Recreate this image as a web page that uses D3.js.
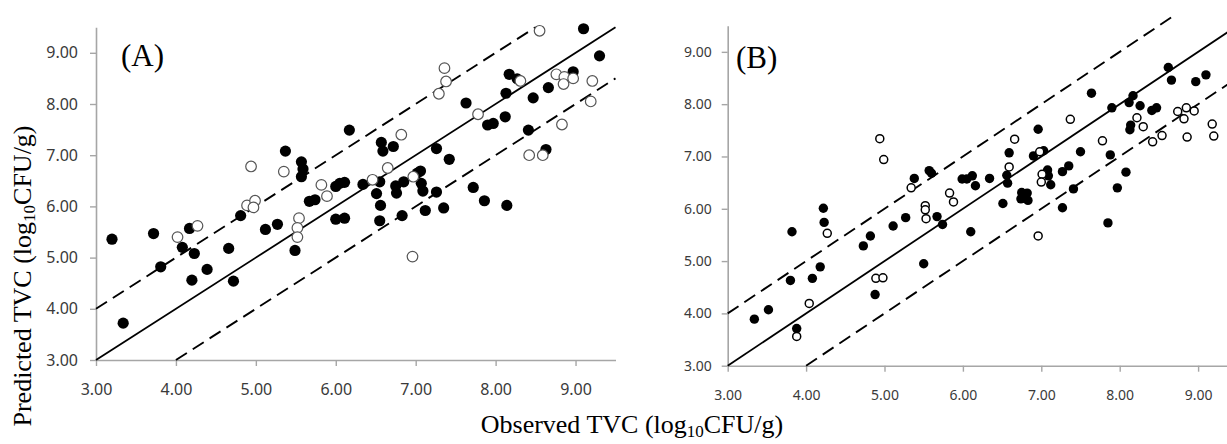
<!DOCTYPE html>
<html>
<head>
<meta charset="utf-8">
<script src="https://cdn.jsdelivr.net/npm/d3@7"></script>
<style>
  html, body { margin: 0; padding: 0; background: #fff; }
  svg { display: block; }
</style>
</head>
<body>
<svg id="chart" width="1227" height="444"></svg>
<script>
// Observed vs predicted total viable count (log10 CFU/g), two data sets.
const tickValues = [3, 4, 5, 6, 7, 8, 9];

// Panel (A): [observed, predicted]
const aFilled = [
  [3.20,5.36],[3.72,5.47],[3.34,3.72],[3.81,4.82],[4.17,5.57],[4.08,5.20],[4.23,5.08],[4.20,4.56],
  [4.39,4.77],[4.66,5.18],[4.72,4.54],[4.81,5.82],[5.12,5.55],[5.27,5.65],[5.37,7.08],[5.57,6.87],
  [5.59,6.73],[5.57,6.58],[5.49,5.14],[5.67,6.10],[5.74,6.13],[6.00,6.39],[6.05,6.45],[6.11,6.47],
  [6.00,5.75],[6.11,5.77],[6.34,6.43],[6.17,7.49],[6.57,7.25],[6.59,7.08],[6.72,7.17],[6.55,6.48],
  [6.51,6.25],[6.56,6.02],[6.75,6.40],[6.76,6.26],[6.85,6.48],[7.02,6.65],[7.06,6.69],[7.07,6.45],
  [7.09,6.30],[7.26,6.28],[7.26,7.13],[7.42,6.92],[6.55,5.72],[6.83,5.82],[7.12,5.92],[7.35,5.97],
  [7.63,8.02],[7.72,6.37],[7.86,6.11],[7.90,7.59],[7.97,7.62],[8.12,7.75],[8.13,8.21],[8.14,6.02],
  [8.17,8.58],[8.27,8.49],[8.41,7.49],[8.47,8.12],[8.63,7.11],[8.66,8.32],[8.97,8.63],[9.10,9.47],
  [9.30,8.94]
];
const aOpen = [
  [4.02,5.40],[4.27,5.62],[4.94,6.78],[4.89,6.02],[4.99,6.11],[4.97,5.98],[5.35,6.68],[5.54,5.77],
  [5.52,5.58],[5.52,5.40],[5.82,6.42],[5.89,6.20],[6.82,7.40],[6.65,6.75],[6.46,6.52],[6.97,6.58],
  [6.96,5.02],[7.36,8.70],[7.38,8.44],[7.29,8.20],[7.78,7.80],[8.31,8.45],[8.55,9.43],[8.42,7.00],
  [8.59,7.00],[8.76,8.58],[8.86,8.53],[8.85,8.39],[8.97,8.50],[8.83,7.60],[9.21,8.45],[9.19,8.05]
];

// Panel (B): [observed, predicted]
const bFilled = [
  [3.34,3.89],[3.52,4.07],[3.82,5.56],[3.80,4.63],[3.88,3.71],[4.08,4.67],[4.18,4.89],[4.22,6.01],
  [4.23,5.74],[4.73,5.29],[4.82,5.48],[4.88,4.36],[5.11,5.67],[5.27,5.83],[5.50,4.95],[5.38,6.58],
  [5.57,6.73],[5.60,6.68],[5.67,5.85],[5.74,5.70],[5.99,6.57],[6.05,6.57],[6.12,6.63],[6.16,6.44],
  [6.10,5.56],[6.34,6.58],[6.51,6.10],[6.56,6.64],[6.57,6.49],[6.59,7.07],[6.90,7.01],[7.03,7.11],
  [6.96,7.52],[6.75,6.31],[6.82,6.30],[6.74,6.19],[6.83,6.16],[7.08,6.74],[7.09,6.63],[7.12,6.46],
  [7.27,6.71],[7.35,6.82],[7.27,6.02],[7.41,6.38],[7.50,7.09],[7.64,8.21],[7.88,7.03],[7.90,7.93],
  [7.85,5.73],[7.97,6.40],[8.08,6.70],[8.12,8.03],[8.17,8.16],[8.13,7.51],[8.14,7.60],[8.26,7.97],
  [8.41,7.88],[8.47,7.93],[8.62,8.70],[8.66,8.46],[8.97,8.43],[9.10,8.56]
];
const bOpen = [
  [3.88,3.56],[4.04,4.19],[4.27,5.53],[4.94,7.34],[4.99,6.94],[4.89,4.67],[4.98,4.68],[5.34,6.40],
  [5.52,6.06],[5.52,5.98],[5.53,5.81],[5.83,6.30],[5.88,6.13],[6.59,6.80],[6.66,7.33],[6.98,7.09],
  [7.01,6.66],[7.00,6.51],[6.96,5.48],[7.37,7.71],[7.78,7.30],[8.22,7.74],[8.30,7.57],[8.42,7.28],
  [8.54,7.40],[8.74,7.86],[8.85,7.93],[8.82,7.72],[8.95,7.87],[8.86,7.37],[9.18,7.62],[9.20,7.39]
];

// Reference lines: y = x and y = x ± 1 (end points in data units)
const aLines = {
  solid: [[3, 3], [9.5, 9.5]],
  upper: [[3, 4], [8.5, 9.5]],
  lower: [[4, 3], [9.5, 8.5]]
};
const bLines = {
  solid: [[3, 3], [9.6, 9.6]],
  upper: [[3, 4], [8.7, 9.7]],
  lower: [[4, 3], [9.6, 8.6]]
};

const svg = d3.select("#chart");
const fmt = d3.format(".2f");
const axisColor = "#a6a6a6";
const labelColor = "#3a3a3a";

function drawPanel(cfg) {
  const x = d3.scaleLinear().domain([3, 9.5]).range([cfg.left, cfg.right]);
  const y = d3.scaleLinear().domain([3, 9.5]).range([cfg.bottom, cfg.top]);
  const g = svg.append("g");

  // axes
  const xAxis = g.append("g")
    .attr("transform", `translate(0,${cfg.bottom})`)
    .call(d3.axisBottom(x).tickValues(tickValues).tickFormat(fmt)
      .tickSize(6).tickSizeOuter(0).tickPadding(cfg.xPad));
  const yAxis = g.append("g")
    .attr("transform", `translate(${cfg.left},0)`)
    .call(d3.axisLeft(y).tickValues(tickValues).tickFormat(fmt)
      .tickSize(6).tickSizeOuter(0).tickPadding(cfg.yPad));
  [xAxis, yAxis].forEach(a => {
    a.select(".domain").attr("stroke", axisColor).attr("stroke-width", 1.6);
    a.selectAll(".tick line").attr("stroke", axisColor).attr("stroke-width", 1.4);
    a.selectAll(".tick text")
      .attr("fill", labelColor)
      .style("font-family", "'Noto Sans', 'Open Sans', sans-serif")
      .style("font-size", cfg.tickFont + "px");
  });

  // reference lines
  const line = d3.line().x(d => x(d[0])).y(d => y(d[1]));
  g.append("path").attr("d", line(cfg.lines.solid))
    .attr("fill", "none").attr("stroke", "#000").attr("stroke-width", 1.8);
  ["upper", "lower"].forEach(k => {
    g.append("path").attr("d", line(cfg.lines[k]))
      .attr("fill", "none").attr("stroke", "#000").attr("stroke-width", 1.9)
      .attr("stroke-dasharray", "13,7");
  });

  // points
  g.append("g").selectAll("circle").data(cfg.filled).join("circle")
    .attr("cx", d => x(d[0])).attr("cy", d => y(d[1]))
    .attr("r", cfg.rFilled).attr("fill", "#000");
  g.append("g").selectAll("circle").data(cfg.open).join("circle")
    .attr("cx", d => x(d[0])).attr("cy", d => y(d[1]))
    .attr("r", cfg.rOpen).attr("fill", "#fff")
    .attr("stroke", cfg.openStroke).attr("stroke-width", cfg.openWidth);

  // panel tag
  g.append("text")
    .attr("x", cfg.tagX).attr("y", cfg.tagY)
    .style("font-family", "'Liberation Serif', 'Times New Roman', serif")
    .style("font-size", "31px")
    .attr("fill", "#000")
    .text(cfg.tag);
}

drawPanel({
  left: 96, right: 615.5, top: 27.2, bottom: 360,
  filled: aFilled, open: aOpen, lines: aLines,
  rFilled: 5.6, rOpen: 5.3, openStroke: "#555", openWidth: 1.2,
  tickFont: 16, xPad: 18, yPad: 12,
  tag: "(A)", tagX: 121, tagY: 66
});

drawPanel({
  left: 727.7, right: 1237.3, top: 25.7, bottom: 365.7,
  filled: bFilled, open: bOpen, lines: bLines,
  rFilled: 4.7, rOpen: 4.0, openStroke: "#000", openWidth: 1.5,
  tickFont: 14, xPad: 18, yPad: 10,
  tag: "(B)", tagX: 736, tagY: 68
});

// shared axis titles
const serif = "'Liberation Serif', 'Times New Roman', serif";
const xTitle = svg.append("text")
  .attr("x", 632).attr("y", 433)
  .attr("text-anchor", "middle")
  .style("font-family", serif).style("font-size", "26px").attr("fill", "#000");
xTitle.append("tspan").text("Observed TVC (log");
xTitle.append("tspan").attr("dy", 4).style("font-size", "17px").text("10");
xTitle.append("tspan").attr("dy", -4).text("CFU/g)");

const yTitle = svg.append("text")
  .attr("transform", "translate(31,276) rotate(-90)")
  .attr("text-anchor", "middle")
  .style("font-family", serif).style("font-size", "26px").attr("fill", "#000");
yTitle.append("tspan").text("Predicted TVC (log");
yTitle.append("tspan").attr("dy", 4).style("font-size", "17px").text("10");
yTitle.append("tspan").attr("dy", -4).text("CFU/g)");
</script>
</body>
</html>
